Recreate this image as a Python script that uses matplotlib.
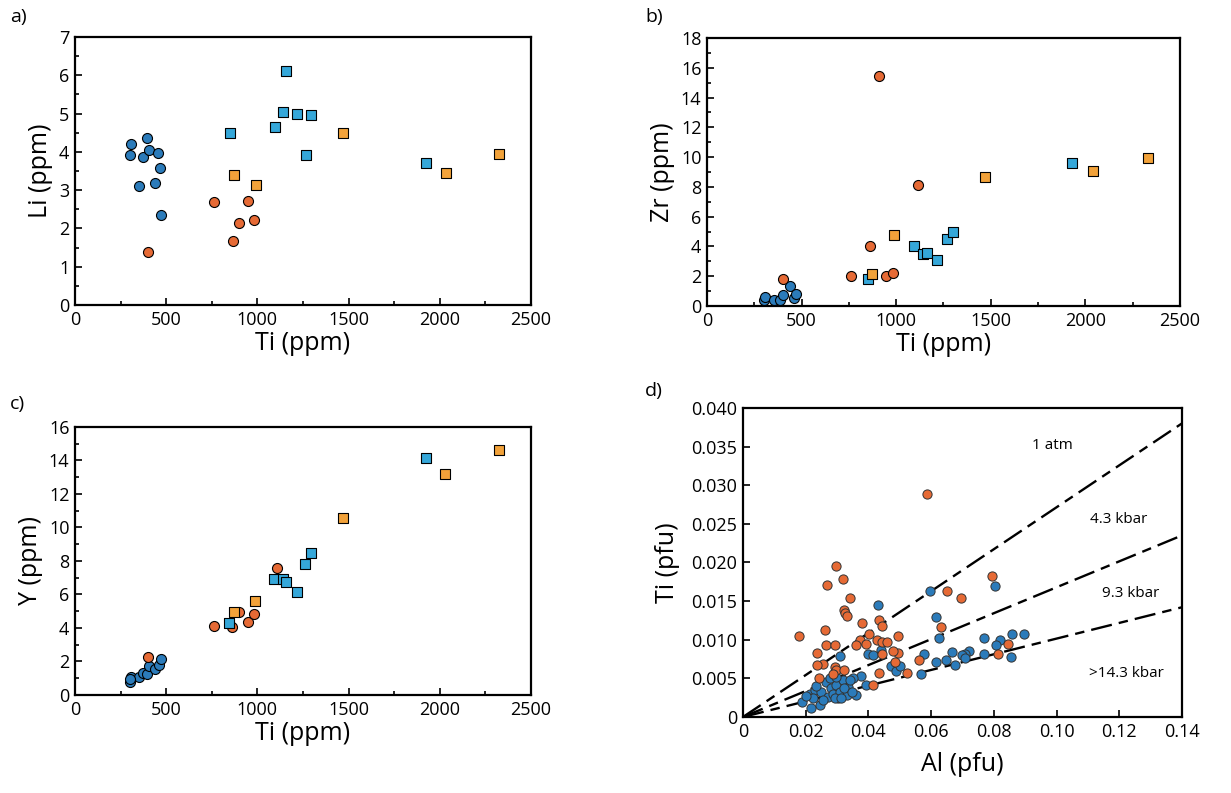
import matplotlib.pyplot as plt
import numpy as np
from matplotlib.ticker import MultipleLocator

plt.rcParams['font.family'] = ['Open Sans', 'DejaVu Sans']

# colours
c_blue = '#2b7bba'
c_red = '#e66a35'
c_lblue = '#35a7d9'
c_orange = '#f2a23a'

# ---- panel a: Li vs Ti ----
a_blue_ti = [305, 302, 397, 371, 406, 455, 353, 439, 468, 473]
a_blue_li = [4.20, 3.91, 4.37, 3.87, 4.04, 3.98, 3.12, 3.19, 3.58, 2.34]
a_red_ti = [402, 764, 947, 901, 981, 864]
a_red_li = [1.39, 2.69, 2.71, 2.15, 2.21, 1.68]
a_lblue_ti = [848, 1157, 1142, 1095, 1219, 1294, 1268, 1926]
a_lblue_li = [4.48, 6.10, 5.05, 4.66, 4.98, 4.95, 3.91, 3.71]
a_orange_ti = [872, 990, 1471, 2034, 2326]
a_orange_li = [3.40, 3.13, 4.50, 3.46, 3.94]

# ---- panel b: Zr vs Ti ----
b_blue_ti = [303, 308, 356, 387, 401, 440, 458, 472]
b_blue_zr = [0.38, 0.60, 0.38, 0.38, 0.72, 1.35, 0.56, 0.79]
b_red_ti = [400, 764, 863, 907, 947, 981, 1114]
b_red_zr = [1.82, 2.00, 4.02, 15.44, 2.00, 2.24, 8.15]
b_lblue_ti = [849, 1095, 1144, 1162, 1217, 1268, 1298, 1931]
b_lblue_zr = [1.80, 4.02, 3.46, 3.57, 3.12, 4.47, 4.94, 9.58]
b_orange_ti = [873, 991, 1472, 2040, 2331]
b_orange_zr = [2.18, 4.80, 8.64, 9.09, 9.96]

# ---- panel c: Y vs Ti ----
c_blue_ti = [302, 305, 353, 371, 397, 406, 439, 462, 473, 300]
c_blue_y = [0.78, 1.05, 1.05, 1.33, 1.25, 1.73, 1.53, 1.79, 2.17, 0.95]
c_red_ti = [402, 764, 859, 901, 947, 980, 1110]
c_red_y = [2.29, 4.13, 4.06, 4.95, 4.37, 4.85, 7.61]
c_lblue_ti = [844, 1093, 1140, 1159, 1215, 1263, 1292, 1923]
c_lblue_y = [4.31, 6.92, 6.92, 6.76, 6.14, 7.83, 8.45, 14.16]
c_orange_ti = [870, 989, 1467, 2030, 2323]
c_orange_y = [4.93, 5.61, 10.56, 13.22, 14.65]

# ---- panel d: Ti vs Al (pfu) ----
d_red_al = [0.0586, 0.0295, 0.0267, 0.0319, 0.0342, 0.0322, 0.0326, 0.0333,
            0.0179, 0.0260, 0.0264, 0.0292, 0.0237, 0.0434, 0.0442, 0.0381,
            0.0402, 0.0374, 0.0359, 0.0391, 0.0426, 0.0442, 0.0458, 0.0494,
            0.0494, 0.0477, 0.0442, 0.0484, 0.0522, 0.0433, 0.0413, 0.0242,
            0.0256, 0.0293, 0.0298, 0.0287, 0.0322, 0.0236, 0.0561, 0.0649,
            0.0696, 0.0630, 0.0795, 0.0812, 0.0846]
d_red_ti = [0.0288, 0.0195, 0.0171, 0.0178, 0.0154, 0.0138, 0.0134, 0.0131,
            0.0105, 0.0112, 0.0093, 0.0093, 0.0083, 0.0125, 0.0118, 0.0121,
            0.0107, 0.0100, 0.0093, 0.0095, 0.0099, 0.0097, 0.0097, 0.0105,
            0.0083, 0.0086, 0.0082, 0.0071, 0.0057, 0.0057, 0.0042, 0.0050,
            0.0068, 0.0065, 0.0061, 0.0056, 0.0061, 0.0067, 0.0074, 0.0163,
            0.0154, 0.0117, 0.0182, 0.0082, 0.0095]
d_blue_al = [0.0597, 0.0614, 0.0626, 0.0804, 0.0769, 0.0820, 0.0807, 0.0857,
             0.0896, 0.0854, 0.0767, 0.0720, 0.0708, 0.0697, 0.0708, 0.0668,
             0.0675, 0.0646, 0.0616, 0.0577, 0.0566, 0.0471, 0.0489, 0.0500,
             0.0400, 0.0415, 0.0391, 0.0377, 0.0351, 0.0309, 0.0440, 0.0430,
             0.0188, 0.0213, 0.0218, 0.0229, 0.0224, 0.0245, 0.0250, 0.0264,
             0.0271, 0.0282, 0.0287, 0.0298, 0.0303, 0.0309, 0.0319, 0.0330,
             0.0335, 0.0321, 0.0341, 0.0360, 0.0346, 0.0255, 0.0234, 0.0277,
             0.0202, 0.0293, 0.0314, 0.0298]
d_blue_ti = [0.0163, 0.0129, 0.0102, 0.0169, 0.0102, 0.0100, 0.0093, 0.0108,
             0.0108, 0.0078, 0.0082, 0.0086, 0.0081, 0.0080, 0.0076, 0.0084,
             0.0067, 0.0074, 0.0071, 0.0081, 0.0056, 0.0066, 0.0060, 0.0066,
             0.0081, 0.0080, 0.0042, 0.0053, 0.0050, 0.0079, 0.0087, 0.0145,
             0.0019, 0.0030, 0.0012, 0.0035, 0.0024, 0.0015, 0.0032, 0.0045,
             0.0026, 0.0037, 0.0030, 0.0041, 0.0024, 0.0032, 0.0048, 0.0028,
             0.0039, 0.0037, 0.0048, 0.0028, 0.0032, 0.0022, 0.0040, 0.0050,
             0.0027, 0.0024, 0.0024, 0.0052]

# isobar lines: Ti at Al = 0.14
iso_labels = ['1 atm', '4.3 kbar', '9.3 kbar', '>14.3 kbar']
iso_end_ti = [0.038, 0.0235, 0.0142]
iso_label_pos = [(0.0987, 0.0352), (0.1198, 0.0256), (0.1235, 0.0160), (0.1222, 0.0056)]

fig = plt.figure(figsize=(12.31, 7.93), dpi=100)
ax_a = fig.add_axes([0.0609, 0.6154, 0.3704, 0.338])
ax_b = fig.add_axes([0.5743, 0.6141, 0.3842, 0.338])
ax_c = fig.add_axes([0.0609, 0.1236, 0.3704, 0.338])
ax_d = fig.add_axes([0.6036, 0.0959, 0.3566, 0.3897])

ms_c = 52
ms_s = 44


def ti_panel(ax, data, ymax, ymaj, ylabel):
    (bx, by), (rx, ry), (lx, ly), (ox, oy) = data
    ax.scatter(bx, by, s=ms_c, c=c_blue, edgecolors='black', linewidths=0.8, zorder=3)
    ax.scatter(rx, ry, s=ms_c, c=c_red, edgecolors='black', linewidths=0.8, zorder=3)
    ax.scatter(lx, ly, s=ms_s, marker='s', c=c_lblue, edgecolors='black', linewidths=0.8, zorder=3)
    ax.scatter(ox, oy, s=ms_s, marker='s', c=c_orange, edgecolors='black', linewidths=0.8, zorder=3)
    ax.set_xlim(0, 2500)
    ax.set_ylim(0, ymax)
    ax.xaxis.set_major_locator(MultipleLocator(500))
    ax.xaxis.set_minor_locator(MultipleLocator(250))
    ax.yaxis.set_major_locator(MultipleLocator(ymaj))
    ax.yaxis.set_minor_locator(MultipleLocator(ymaj / 2))
    ax.set_xlabel('Ti (ppm)', fontsize=18, labelpad=2)
    ax.set_ylabel(ylabel, fontsize=18, labelpad=4)


ti_panel(ax_a, [(a_blue_ti, a_blue_li), (a_red_ti, a_red_li),
                (a_lblue_ti, a_lblue_li), (a_orange_ti, a_orange_li)], 7, 1, 'Li (ppm)')
ti_panel(ax_b, [(b_blue_ti, b_blue_zr), (b_red_ti, b_red_zr),
                (b_lblue_ti, b_lblue_zr), (b_orange_ti, b_orange_zr)], 18, 2, 'Zr (ppm)')
ti_panel(ax_c, [(c_blue_ti, c_blue_y), (c_red_ti, c_red_y),
                (c_lblue_ti, c_lblue_y), (c_orange_ti, c_orange_y)], 16, 2, 'Y (ppm)')

# panel d
for end in iso_end_ti:
    ax_d.plot([0, 0.14], [0, end], color='black', lw=1.7,
              linestyle=(0, (9, 3, 4, 3)), zorder=2)
ax_d.scatter(d_blue_al, d_blue_ti, s=44, c=c_blue, edgecolors='#333333', linewidths=0.7, zorder=3)
ax_d.scatter(d_red_al, d_red_ti, s=44, c=c_red, edgecolors='#333333', linewidths=0.7, zorder=4)
for lab, (x, y) in zip(iso_labels, iso_label_pos):
    ax_d.text(x, y, lab, fontsize=11, ha='center', va='center')
ax_d.set_xlim(0, 0.14)
ax_d.set_ylim(0, 0.040)
xt = np.arange(0, 0.1401, 0.02)
yt = np.arange(0, 0.0401, 0.005)
ax_d.set_xticks(xt)
ax_d.set_xticklabels(['0'] + ['%.2f' % v for v in xt[1:]])
ax_d.set_yticks(yt)
ax_d.set_yticklabels(['0'] + ['%.3f' % v for v in yt[1:]])
ax_d.set_xlabel('Al (pfu)', fontsize=18, labelpad=8)
ax_d.set_ylabel('Ti (pfu)', fontsize=18, labelpad=8)

for ax in [ax_a, ax_b, ax_c, ax_d]:
    for sp in ax.spines.values():
        sp.set_linewidth(1.6)
    ax.tick_params(which='both', direction='in', labelsize=13, width=1.2, pad=4)
    ax.tick_params(which='major', length=5)
    ax.tick_params(which='minor', length=3)

fig.text(0.008, 0.978, 'a)', fontsize=14, va='center')
fig.text(0.524, 0.978, 'b)', fontsize=14, va='center')
fig.text(0.008, 0.490, 'c)', fontsize=14, va='center')
fig.text(0.524, 0.507, 'd)', fontsize=14, va='center')

fig.savefig('out.png', dpi=100)
